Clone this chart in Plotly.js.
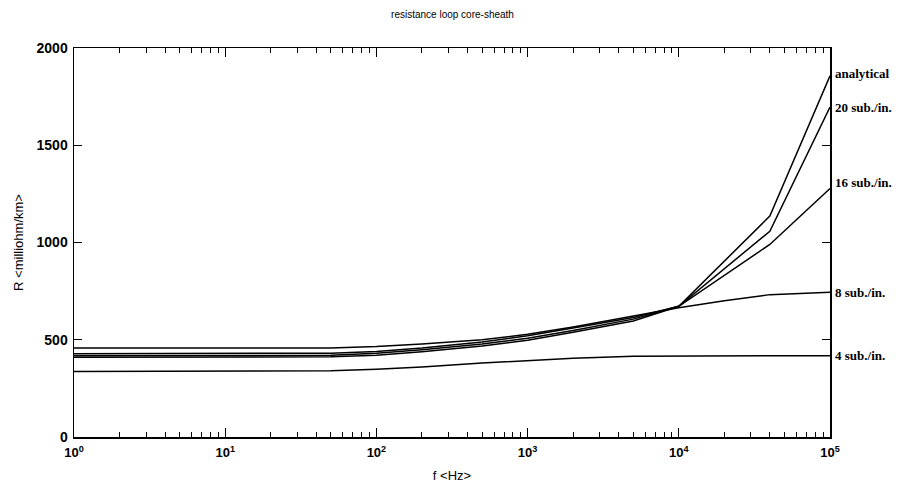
<!DOCTYPE html>
<html>
<head>
<meta charset="utf-8">
<script src="https://cdn.plot.ly/plotly-3.0.1.min.js"></script>
<style>html,body{margin:0;padding:0;background:#fff;}#chart{width:905px;height:495px;}</style>
</head>
<body>
<div id="chart"></div>
<script>
var freq = [1, 10, 50, 100, 200, 500, 1000, 2000, 5000, 10000, 20000, 40000, 100000];
var analytical = [410, 410, 412, 420, 438, 468, 498, 538, 596, 672, 905, 1136, 1857];
var sub20 = [418, 418, 420, 430, 448, 478, 508, 548, 606, 672, 865, 1058, 1696];
var sub16 = [428, 428, 431, 440, 457, 488, 520, 560, 614, 672, 830, 990, 1278];
var sub8 = [457, 457, 458, 465, 478, 500, 528, 566, 622, 665, 700, 732, 744];
var sub4 = [337, 337, 340, 348, 360, 380, 392, 405, 415, 417, 418, 418, 418];
var seriesNames = ["analytical", "20 sub./in.", "16 sub./in.", "8 sub./in.", "4 sub./in."];
var seriesValues = [analytical, sub20, sub16, sub8, sub4];
var labelShift = [2, 0, 6, 0, 0];
var xTickVals = [1, 10, 100, 1000, 10000, 100000];
var xTickText = ["10<sup>0</sup>", "10<sup>1</sup>", "10<sup>2</sup>", "10<sup>3</sup>", "10<sup>4</sup>", "10<sup>5</sup>"];
var yTickVals = [0, 500, 1000, 1500, 2000];

// minor tick positions 2..9 within each decade
var minorVals = [];
for (var d = 0; d < xTickVals.length - 1; d++) {
  for (var m = 2; m <= 9; m++) minorVals.push(m * xTickVals[d]);
}

var traces = seriesValues.map(function (v, i) {
  return {x: freq, y: v, type: 'scatter', mode: 'lines', name: seriesNames[i],
    line: {color: '#000', width: 1.5}, showlegend: false, hoverinfo: 'skip'};
});

var annotations = seriesValues.map(function (v, i) {
  return {x: 1, xref: 'paper', y: v[v.length - 1], yref: 'y', text: seriesNames[i],
    showarrow: false, xanchor: 'left', xshift: 3, yshift: labelShift[i],
    font: {family: 'Liberation Serif, serif', size: 13, color: '#000', weight: 'bold'}};
});

var sans = 'Liberation Sans, Arial, sans-serif';
var layout = {
  width: 905, height: 495,
  margin: {l: 74, r: 75, t: 48, b: 58},
  paper_bgcolor: '#fff', plot_bgcolor: '#fff',
  title: {text: 'resistance loop core-sheath', x: 0.5, xanchor: 'center', y: 0.97, yanchor: 'middle',
    font: {family: sans, size: 10, color: '#000'}},
  xaxis: {type: 'log', range: [0, 5], tickmode: 'array', tickvals: xTickVals, ticktext: xTickText,
    ticks: 'inside', ticklen: 9, tickwidth: 1.2, tickcolor: '#000', ticklabelstandoff: 3,
    minor: {tickmode: 'array', tickvals: minorVals, ticks: 'inside', ticklen: 5, tickwidth: 1, tickcolor: '#000', showgrid: false},
    showline: true, linecolor: '#000', linewidth: 1.5, mirror: 'allticks',
    showgrid: false, zeroline: false,
    tickfont: {family: sans, size: 13, color: '#000', weight: 'bold'},
    title: {text: 'f <Hz>', standoff: 12, font: {family: sans, size: 13, color: '#000'}}},
  yaxis: {range: [0, 2000], tickmode: 'array', tickvals: yTickVals,
    ticks: 'inside', ticklen: 8, tickwidth: 1.2, tickcolor: '#000', ticklabelstandoff: 2,
    showline: true, linecolor: '#000', linewidth: 1.5, mirror: 'allticks',
    showgrid: false, zeroline: false,
    tickfont: {family: sans, size: 14, color: '#000', weight: 'bold'},
    title: {text: 'R <milliohm/km>', standoff: 10, font: {family: sans, size: 13, color: '#000'}}},
  annotations: annotations
};

Plotly.newPlot('chart', traces, layout, {staticPlot: true});
</script>
</body>
</html>
